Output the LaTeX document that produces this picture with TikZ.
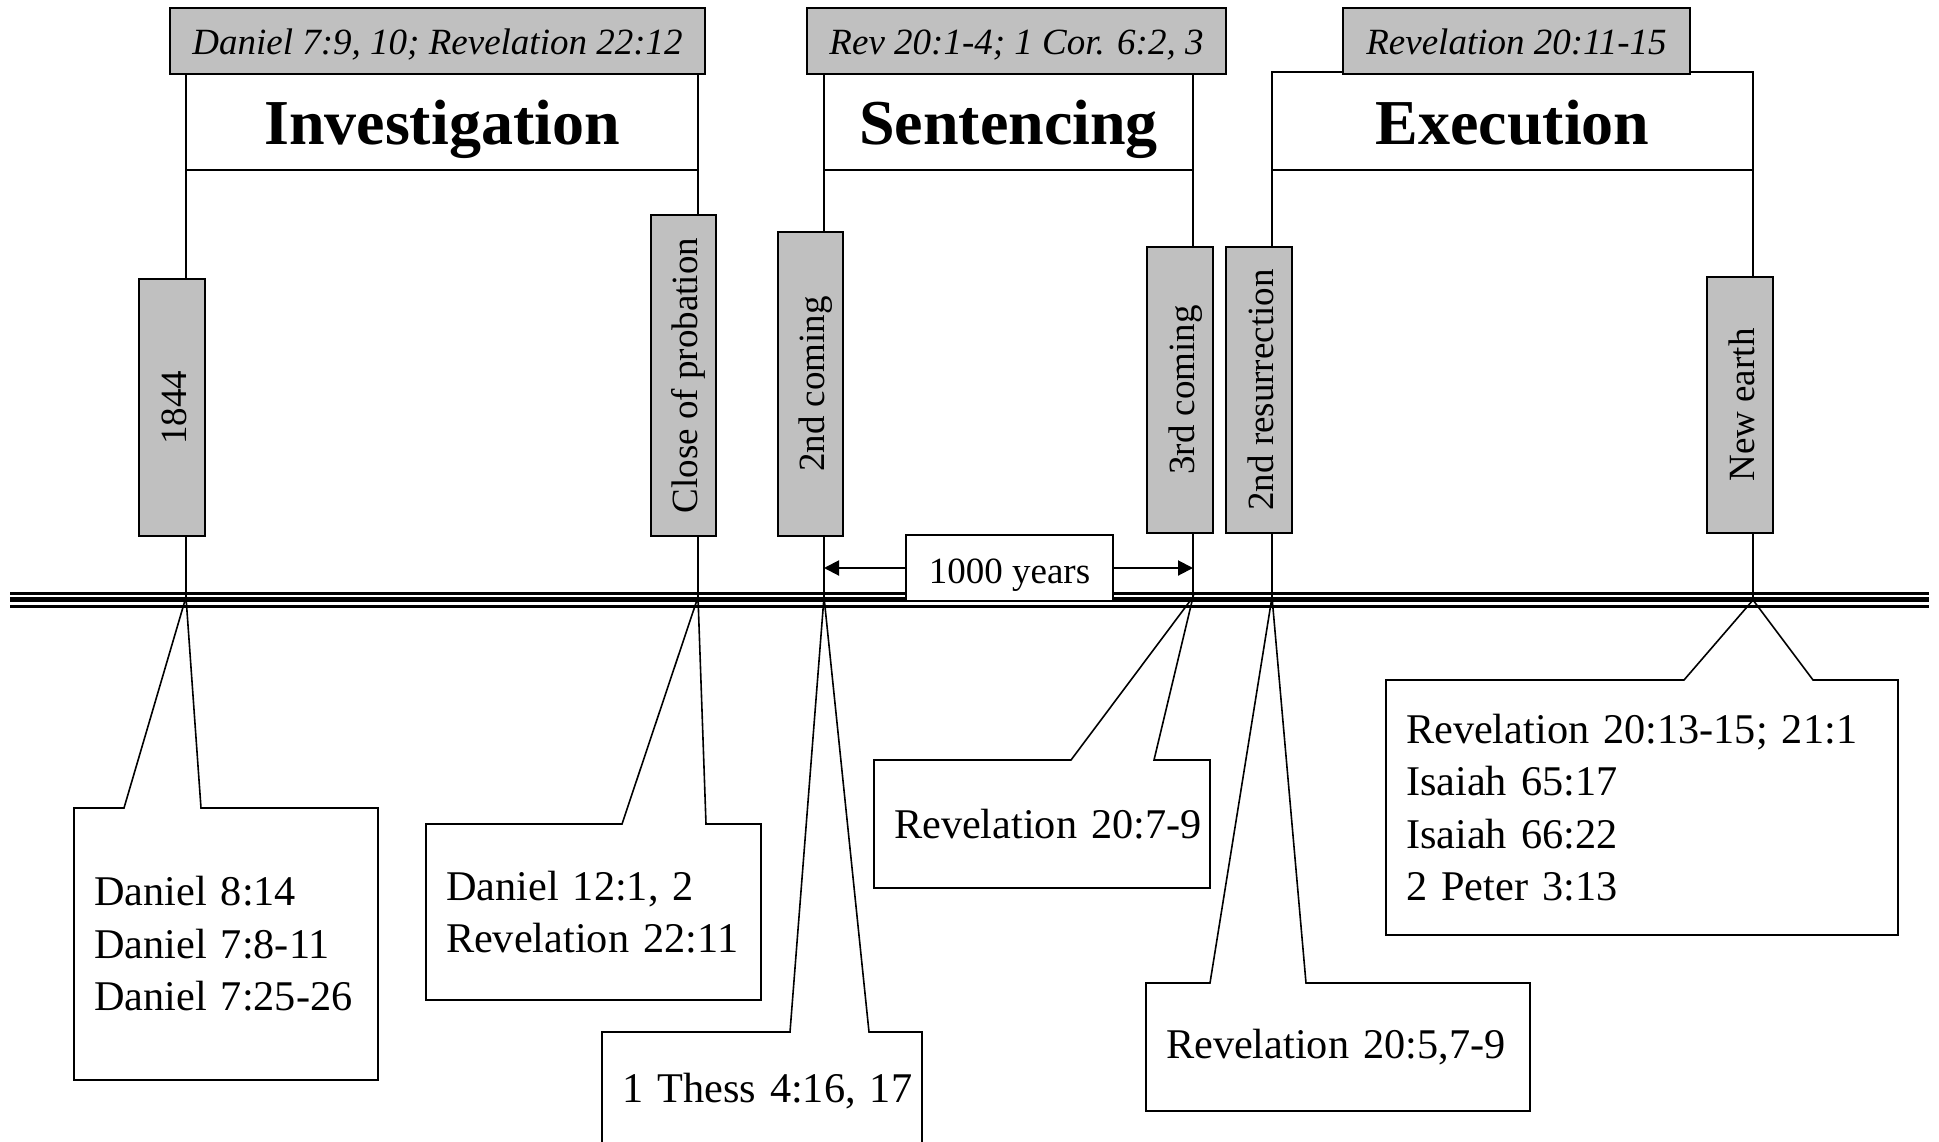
\documentclass[tikz,border=0pt]{standalone}
\usepackage{fontspec}
\setmainfont{Liberation Serif}
\usetikzlibrary{arrows.meta}
\definecolor{boxgray}{RGB}{192,192,192}

\begin{document}
\begin{tikzpicture}[x=1pt,y=-1pt,
                refbox/.style={draw,fill=boxgray,line width=2pt,inner sep=0pt,outer sep=0pt,minimum height=66pt,text height=28.2pt,text depth=0pt,font=\fontsize{37}{44}\selectfont\itshape},
                phasebox/.style={draw,fill=white,line width=2pt,inner sep=0pt,outer sep=0pt,font=\fontsize{64}{76}\selectfont\bfseries},
                eventbox/.style={draw,fill=boxgray,line width=2pt,inner sep=0pt,outer sep=0pt,rotate=90,minimum height=65.5pt,text height=28pt,text depth=0pt,font=\fontsize{37}{44}\selectfont},
                notebox/.style={fill=white,inner xsep=20pt,inner ysep=0pt,outer sep=0pt,align=left,anchor=north west,font=\fontsize{42.3}{52.5}\selectfont},
                tick/.style={line width=1.6pt}]
                \useasboundingbox (0,0) rectangle (1939,1141);

                \node[phasebox,minimum width=512pt,minimum height=96pt,text height=45.9pt,text depth=0pt] (inv) at (442,121.75) {Investigation};
                \node[phasebox,minimum width=369pt,minimum height=96pt,text height=45.9pt,text depth=0pt] (sen) at (1008.5,121.75) {Sentencing};
                \node[phasebox,minimum width=481pt,minimum height=98pt,text height=48.4pt,text depth=0pt] (exe) at (1512.5,120.5) {Execution};

                \node[refbox,minimum width=535pt] (ref1) at (437.5,40.5) {Daniel 7:9, 10; Revelation 22:12};
                \node[refbox,minimum width=419pt] (ref2) at (1016.5,40.5) {Rev 20:1-4; 1 Cor. 6:2, 3};
                \node[refbox,minimum width=347pt] (ref3) at (1516.5,40.5) {Revelation 20:11-15};

                \coordinate (t1) at (186,597);
                \coordinate (t2) at (698,597);
                \coordinate (t3) at (824,597);
                \coordinate (t4) at (1193,597);
                \coordinate (t5) at (1272,597);
                \coordinate (t6) at (1753,600);

                \draw[tick] (inv.south west) -- (t1);
                \draw[tick] (inv.south east) -- (t2);
                \draw[tick] (sen.south west) -- (t3);
                \draw[tick] (sen.south east) -- (t4);
                \draw[tick] (exe.south west) -- (t5);
                \draw[tick] (exe.south east) -- (t6);

                \node[eventbox,minimum width=257pt] (e1) at (172,407.5) {1844};
                \node[eventbox,minimum width=321pt] (e2) at (683.5,375.5) {Close of probation};
                \node[eventbox,minimum width=304pt] (e3) at (810.5,384) {2nd coming};
                \node[eventbox,minimum width=286pt] (e4) at (1180,390) {3rd coming};
                \node[eventbox,minimum width=286pt] (e5) at (1259,390) {2nd resurrection};
                \node[eventbox,minimum width=256pt] (e6) at (1740,405) {New earth};

                \foreach \y/\w in {593.5/2.7,599.5/4.7,606/3}
                    \draw[line width=\w pt] (10,\y) -- (1929,\y);

                \node[draw,fill=white,line width=2pt,inner sep=0pt,outer sep=0pt,minimum width=207.5pt,minimum height=66pt,text height=31.2pt,text depth=0pt,font=\fontsize{37}{44}\selectfont] (yrs) at (1009.5,568) {1000 years};
                \draw[line width=2pt,-{Triangle[length=15pt,width=15pt]}] (yrs.west) -- (yrs.west -| t3);
                \draw[line width=2pt,-{Triangle[length=15pt,width=15pt]}] (yrs.east) -- (yrs.east -| t4);

                \node[notebox,text width=264pt,minimum height=272pt] (n1) at (74,808) {\mbox{Daniel 8:14}\\\mbox{Daniel 7:8-11}\\\mbox{Daniel 7:25-26}};
                \node[notebox,text width=295pt,minimum height=176pt] (n2) at (426,824) {\mbox{Daniel 12:1, 2}\\\mbox{Revelation 22:11}};
                \node[notebox,text width=280pt,minimum height=118pt] (n3) at (602,1032) {\mbox{1 Thess 4:16, 17}};
                \node[notebox,text width=296pt,minimum height=128pt] (n4) at (874,760) {\mbox{Revelation 20:7-9}};
                \node[notebox,text width=344pt,minimum height=128pt] (n5) at (1146,983) {\mbox{Revelation 20:5,7-9}};
                \node[notebox,text width=472pt,minimum height=255pt] (n6) at (1386,680) {\mbox{Revelation 20:13-15; 21:1}\\\mbox{Isaiah 65:17}\\\mbox{Isaiah 66:22}\\\mbox{2 Peter 3:13}};

                \draw[tick] (n1.north west) -- (124,0 |- n1.north) -- (t1) -- (201,0 |- n1.north) -- (n1.north east) -- (n1.south east) -- (n1.south west) -- cycle;
                \draw[tick] (n2.north west) -- (622,0 |- n2.north) -- (t2) -- (706,0 |- n2.north) -- (n2.north east) -- (n2.south east) -- (n2.south west) -- cycle;
                \draw[tick] (n3.north west) -- (790,0 |- n3.north) -- (t3) -- (869,0 |- n3.north) -- (n3.north east) -- (n3.south east) -- (n3.south west) -- cycle;
                \draw[tick] (n4.north west) -- (1071,0 |- n4.north) -- (t4) -- (1154,0 |- n4.north) -- (n4.north east) -- (n4.south east) -- (n4.south west) -- cycle;
                \draw[tick] (n5.north west) -- (1210,0 |- n5.north) -- (t5) -- (1306,0 |- n5.north) -- (n5.north east) -- (n5.south east) -- (n5.south west) -- cycle;
                \draw[tick] (n6.north west) -- (1684,0 |- n6.north) -- (t6) -- (1813,0 |- n6.north) -- (n6.north east) -- (n6.south east) -- (n6.south west) -- cycle;
            \end{tikzpicture}
\end{document}
